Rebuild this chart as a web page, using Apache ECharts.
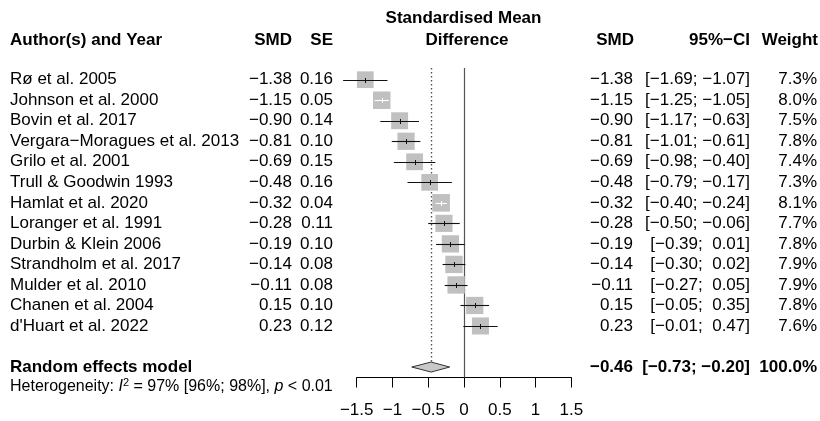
<!DOCTYPE html>
<html>
<head>
<meta charset="utf-8">
<script src="https://cdn.jsdelivr.net/npm/echarts@6/dist/echarts.min.js"></script>
<style>
html,body{margin:0;padding:0;background:#fff;}
#chart{width:820px;height:421px;}
</style>
</head>
<body>
<div id="chart"></div>
<script>
// ---- data ----
const studies = ["Rø et al. 2005","Johnson et al. 2000","Bovin et al. 2017","Vergara−Moragues et al. 2013","Grilo et al. 2001","Trull & Goodwin 1993","Hamlat et al. 2020","Loranger et al. 1991","Durbin & Klein 2006","Strandholm et al. 2017","Mulder et al. 2010","Chanen et al. 2004","d'Huart et al. 2022"];
const smd = [-1.38,-1.15,-0.90,-0.81,-0.69,-0.48,-0.32,-0.28,-0.19,-0.14,-0.11,0.15,0.23];
const se = [0.16,0.05,0.14,0.10,0.15,0.16,0.04,0.11,0.10,0.08,0.08,0.10,0.12];
const ciLower = [-1.69,-1.25,-1.17,-1.01,-0.98,-0.79,-0.40,-0.50,-0.39,-0.30,-0.27,-0.05,-0.01];
const ciUpper = [-1.07,-1.05,-0.63,-0.61,-0.40,-0.17,-0.24,-0.06,0.01,0.02,0.05,0.35,0.47];
const weights = [7.3,8.0,7.5,7.8,7.4,7.3,8.1,7.7,7.8,7.9,7.9,7.8,7.6];
const summaryLabel = "Random effects model";
const summarySmd = -0.46;
const summaryLower = -0.73;
const summaryUpper = -0.20;
const summaryWeight = 100.0;
const heterogeneity = {i2: 97, i2Lower: 96, i2Upper: 98, p: "0.01"};
const xTicks = [-1.5,-1,-0.5,0,0.5,1,1.5];

// ---- helpers ----
const FONT = '"Liberation Sans", Arial, Helvetica, sans-serif';
const FS = 17;
function fmt(v){ return (v<0?"−":"") + Math.abs(v).toFixed(2); }
function fmtCI(lo,hi){ return "[" + fmt(lo) + ";" + (hi<0?" ":"  ") + fmt(hi) + "]"; }
function txt(text,x,y,align,bold,size){
  return {type:'text', silent:true, style:{text:text, x:x, y:y, align:align||'left', verticalAlign:'middle',
    font:(bold?'bold ':'') + (size||FS) + 'px ' + FONT, fill:'#000'}};
}
const COL = {smdL:292, seL:333, smdR:633, ci:750, w:817, name:10};
const summaryRow = studies.length + 1;
const Y_MIN = -0.57, Y_MAX = 14.51;

const rows = studies.map((s,i)=>[smd[i],ciLower[i],ciUpper[i],weights[i],i]);

const chart = echarts.init(document.getElementById('chart'), null, {renderer:'canvas'});
const option = {
  animation:false,
  grid:{left:356.7, right:248.7, top:68, bottom:43.5},
  xAxis:{type:'value', min:xTicks[0], max:xTicks[xTicks.length-1], interval:0.5, position:'bottom',
    splitLine:{show:false},
    axisLine:{show:true, onZero:false, lineStyle:{color:'#000', width:1}},
    axisTick:{show:true, length:10, lineStyle:{color:'#000', width:1}},
    axisLabel:{margin:24, color:'#000', fontSize:17, fontFamily:FONT,
      formatter:function(v){ return (v<0?'−':'') + String(Math.abs(v)); }}
  },
  yAxis:{type:'value', inverse:true, min:Y_MIN, max:Y_MAX, show:false},
  series:[
    {
      type:'custom', name:'studies', clip:false, silent:true,
      data: rows,
      renderItem:function(params, api){
        const est=api.value(0), lo=api.value(1), hi=api.value(2), w=api.value(3), row=api.value(4);
        const i = params.dataIndex;
        const c = api.coord([est,row]);
        const pl = api.coord([lo,row]), ph = api.coord([hi,row]);
        const side = 6.18*Math.sqrt(w);
        const inside = (c[0]-pl[0]) < side/2 && (ph[0]-c[0]) < side/2;
        const lc = inside ? '#ffffff' : '#111111';
        const y = Math.round(c[1]) + 0.5;
        const xm = Math.round(c[0]) + 0.5;
        return {type:'group', children:[
          {type:'rect', shape:{x:c[0]-side/2, y:c[1]-side/2, width:side, height:side}, style:{fill:'#c0c0c0'}},
          {type:'line', shape:{x1:pl[0], y1:y, x2:ph[0], y2:y}, style:{stroke:lc, lineWidth:1.1}},
          {type:'line', shape:{x1:xm, y1:y-2.5, x2:xm, y2:y+2.5}, style:{stroke:lc, lineWidth:1}},
          txt(studies[i], COL.name, c[1]),
          txt(fmt(smd[i]), COL.smdL, c[1], 'right'),
          txt(se[i].toFixed(2), COL.seL, c[1], 'right'),
          txt(fmt(smd[i]), COL.smdR, c[1], 'right'),
          txt(fmtCI(ciLower[i], ciUpper[i]), COL.ci, c[1], 'right'),
          txt(weights[i].toFixed(1)+'%', COL.w, c[1], 'right')
        ]};
      }
    },
    {
      type:'custom', name:'summary', clip:false, silent:true, z:1,
      data:[[summarySmd, summaryLower, summaryUpper, summaryRow]],
      renderItem:function(params, api){
        const est=api.value(0), lo=api.value(1), hi=api.value(2), row=api.value(3);
        const c = api.coord([est,row]);
        const pl = api.coord([lo,row]), ph = api.coord([hi,row]);
        const top = api.coord([0,Y_MIN]);
        const bot = api.coord([0,Y_MAX]);
        const zx = Math.round(top[0]) + 0.5;
        const ex = Math.round(c[0]) + 0.5;
        const h = 5;
        return {type:'group', children:[
          {type:'line', shape:{x1:zx, y1:top[1], x2:zx, y2:bot[1]}, style:{stroke:'#555', lineWidth:1.2}},
          {type:'line', shape:{x1:ex, y1:top[1], x2:ex, y2:c[1]-h}, style:{stroke:'#555', lineWidth:1.4, lineDash:[1.5,2.5]}},
          {type:'polygon', shape:{points:[[pl[0],c[1]],[c[0],c[1]-h],[ph[0],c[1]],[c[0],c[1]+h]]},
            style:{fill:'#c8c8c8', stroke:'#333', lineWidth:1}},
          txt(summaryLabel, COL.name, c[1], 'left', true),
          txt(fmt(summarySmd), COL.smdR, c[1], 'right', true),
          txt(fmtCI(summaryLower, summaryUpper), COL.ci, c[1], 'right', true),
          txt(summaryWeight.toFixed(1)+'%', COL.w, c[1], 'right', true)
        ]};
      }
    }
  ],
  graphic:[
    txt("Author(s) and Year", 10, 40, 'left', true),
    txt("SMD", 292, 40, 'right', true),
    txt("SE", 333, 40, 'right', true),
    txt("Standardised Mean", 463.5, 18, 'center', true),
    txt("Difference", 467, 40, 'center', true),
    txt("SMD", 634, 40, 'right', true),
    txt("95%−CI", 750, 40, 'right', true),
    txt("Weight", 818, 40, 'right', true),
    {type:'text', silent:true, style:{x:10, y:387, verticalAlign:'middle',
      text:'Heterogeneity: {it|I}{sup|2} = ' + heterogeneity.i2 + '% [' + heterogeneity.i2Lower + '%; ' + heterogeneity.i2Upper + '%], {it|p} < ' + heterogeneity.p,
      font: '16px ' + FONT, fill:'#000',
      rich:{
        it:{fontStyle:'italic', fontSize:16, fontFamily:FONT, fill:'#000'},
        sup:{fontSize:11, fontFamily:FONT, verticalAlign:'top', padding:[0,0,8,0], fill:'#000'}
      }}}
  ]
};
chart.setOption(option);
</script>
</body>
</html>
